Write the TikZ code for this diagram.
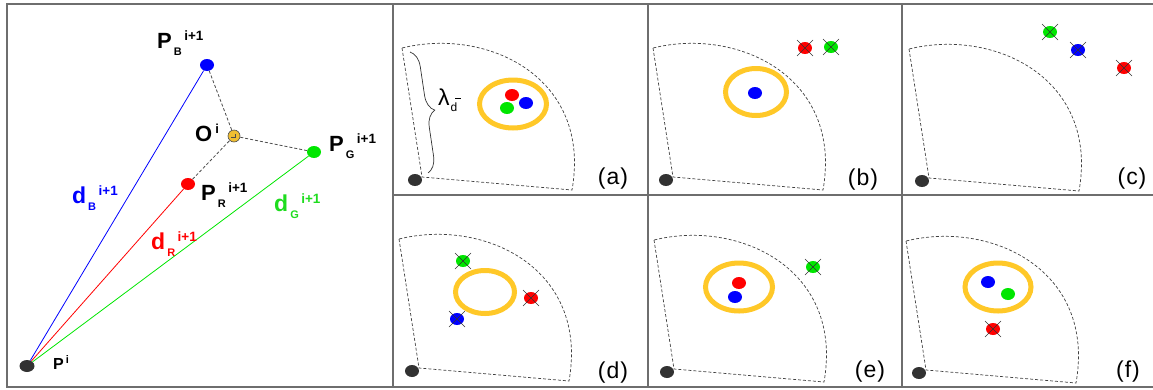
\documentclass[tikz,border=0pt]{standalone}
\usepackage{fontspec}
\setmainfont{Liberation Sans}
\usetikzlibrary{shapes.geometric,decorations.pathreplacing}
\definecolor{dblue}{RGB}{0,0,255}
\definecolor{dred}{RGB}{255,0,0}
\definecolor{dgreen}{RGB}{0,230,0}
\definecolor{tgreen}{RGB}{30,220,30}
\definecolor{ringy}{RGB}{255,200,40}
\definecolor{ogold}{RGB}{240,190,50}
\definecolor{darkdot}{RGB}{50,50,50}
\definecolor{framegray}{RGB}{110,110,110}
\newcommand\plab[4][22]{{\fontsize{#1}{#1}\selectfont #2}\kern2pt\raisebox{-7pt}{\fontsize{11}{11}\selectfont #3}\kern2.5pt\raisebox{8pt}{\fontsize{13.5}{13.5}\selectfont #4}}
\begin{document}
\begin{tikzpicture}[x=1pt,y=-1pt,
  dot/.style={ellipse,minimum width=14pt,minimum height=12pt,inner sep=0pt,draw=none},
  blackdot/.style={dot,fill=darkdot,minimum width=14pt,minimum height=12pt},
  ring/.style={ellipse,draw=ringy,line width=5pt,inner sep=0pt,fill=none},
  sectorline/.style={draw=black!75,line width=0.7pt,dash pattern=on 3pt off 2pt},
  guide/.style={draw=black!70,line width=0.8pt,dash pattern=on 3pt off 2pt},
  ray/.style={line width=0.8pt},
  crossline/.style={draw=black!80,line width=0.6pt},
  lab/.style={inner sep=0pt,anchor=base west,font=\bfseries},
  plabel/.style={inner sep=0pt,font=\fontsize{23}{23}\selectfont},
  border/.style={draw=framegray,line width=1.3pt},
  sector/.pic={
    \coordinate (-v) at (0,0);
    \coordinate (-tl) at (-20,-129);
    \coordinate (-br) at (150,13);
    \draw[sectorline] (-tl) -- (-v) -- (-br) .. controls (170,-100) and (65,-150) .. (-tl);
    \node[blackdot] (-dot) at (-7,3) {};
  },
  crossed/.pic={
    \node[dot,pic actions] (-dot) at (0,0) {};
    \draw[crossline] (-8,-8) -- (8,8) (-8,8) -- (8,-8);
  }
]
\useasboundingbox (0,0) rectangle (1153,389);
% frames
\draw[border] (7,4) rectangle (393,387);
\draw[border] (393,4) -- (1153,4) (393,195) -- (1153,195) (393,387) -- (1153,387)
  (648,4) -- (648,387) (902,4) -- (902,387);

% ---------- left panel ----------
\node[blackdot,minimum width=15pt,minimum height=12pt] (Pi) at (27,366) {};
\node[dot,fill=dblue] (PB) at (207,65) {};
\node[dot,fill=dgreen] (PG) at (314,152) {};
\node[dot,fill=dred] (PR) at (188,184) {};
\node[circle,draw=black!70,fill=ogold,minimum size=12pt,inner sep=0pt,line width=0.6pt] (O) at (234,136) {};
\draw[black!70,line width=0.5pt] ([shift={(-3,1.5)}]O.center) -- ([shift={(1,1.5)}]O.center) -- ([shift={(1,-2)}]O.center);
\draw[ray,dblue] (Pi) -- (PB);
\draw[ray,dred] (Pi) -- (PR);
\draw[ray,dgreen] (Pi) -- (PG);
\draw[guide] (PB) -- (O);
\draw[guide] (PG) -- (O);
\draw[guide] (PR) -- (O);
\node[lab] (lPB) at (157,48) {\plab{P}{B}{i+1}};
\node[lab] (lPG) at (329,151) {\plab{P}{G}{i+1}};
\node[lab] (lPR) at (201,200) {\plab{P}{R}{i+1}};
\node[lab] (lO) at (195,141) {{\fontsize{22}{22}\selectfont O}\kern3pt\raisebox{8pt}{\fontsize{13}{13}\selectfont i}};
\node[lab] (lPi) at (53,369) {{\fontsize{16}{16}\selectfont P}\kern2pt\raisebox{6pt}{\fontsize{11}{11}\selectfont i}};
\node[lab,text=dblue] (ldB) at (72,203) {\plab[23]{d}{B}{i+1}};
\node[lab,text=dred] (ldR) at (151,249) {\plab[23]{d}{R}{i+1}};
\node[lab,text=tgreen] (ldG) at (274,211) {\plab[23]{d}{G}{i+1}};

% ---------- panel (a) ----------
\pic (sa) at (422,177) {sector};
\node[ring,minimum width=67pt,minimum height=48pt] (ra) at (513,104) {};
\node[dot,fill=dred] (aR) at (512,95) {};
\node[dot,fill=dblue] (aB) at (526,103) {};
\node[dot,fill=dgreen] (aG) at (507,108) {};
\coordinate (bt) at (410,52);
\coordinate (bb) at (428,173);
\draw[decorate,decoration={brace,amplitude=16pt},draw=black!80,line width=0.7pt] (bt) -- (bb);
\node[inner sep=0pt,anchor=base west] (lam) at (438,105) {{\fontsize{23}{23}\selectfont λ}\kern1pt\raisebox{-6pt}{\fontsize{12}{12}\selectfont d\kern-2pt\raisebox{12pt}{\rule{6pt}{0.6pt}}}};
\node[plabel] (la) at (613,179) {(\kern1pt a\kern1pt)};

% ---------- panel (b) ----------
\pic (sb) at (673,177) {sector};
\node[ring,minimum width=61pt,minimum height=47pt] (rb) at (756,92) {};
\node[dot,fill=dblue] (bB) at (755,93) {};
\pic[fill=dred] (bR) at (805,48) {crossed};
\pic[fill=dgreen] (bG) at (831,47) {crossed};
\node[plabel] (lb) at (863,180) {(\kern1pt b\kern1pt)};

% ---------- panel (c) ----------
\pic (sc) at (929,178) {sector};
\pic[fill=dgreen] (cG) at (1050,32) {crossed};
\pic[fill=dblue] (cB) at (1078,50) {crossed};
\pic[fill=dred] (cR) at (1124,68) {crossed};
\node[plabel] (lc) at (1132,179) {(\kern1pt c\kern1pt)};

% ---------- panel (d) ----------
\pic (sd) at (419,368) {sector};
\node[ring,minimum width=59pt,minimum height=43pt] (rd) at (485,292) {};
\pic[fill=dgreen] (dG) at (463,261) {crossed};
\pic[fill=dred] (dR) at (531,298) {crossed};
\pic[fill=dblue] (dB) at (457,319) {crossed};
\node[plabel] (ld) at (613,373) {(\kern1pt d\kern1pt)};

% ---------- panel (e) ----------
\pic (se) at (674,369) {sector};
\node[ring,minimum width=67pt,minimum height=48pt] (re) at (739,287) {};
\node[dot,fill=dred] (eR) at (739,283) {};
\node[dot,fill=dblue] (eB) at (735,297) {};
\pic[fill=dgreen] (eG) at (813,267) {crossed};
\node[plabel] (le) at (870,372) {(\kern1pt e\kern1pt)};

% ---------- panel (f) ----------
\pic (sf) at (926,370) {sector};
\node[ring,minimum width=66pt,minimum height=48pt] (rf) at (998,287) {};
\node[dot,fill=dblue] (fB) at (988,282) {};
\node[dot,fill=dgreen] (fG) at (1008,294) {};
\pic[fill=dred] (fR) at (993,329) {crossed};
\node[plabel] (lf) at (1128,372) {(\kern1pt f\kern1pt)};
\end{tikzpicture}
\end{document}
